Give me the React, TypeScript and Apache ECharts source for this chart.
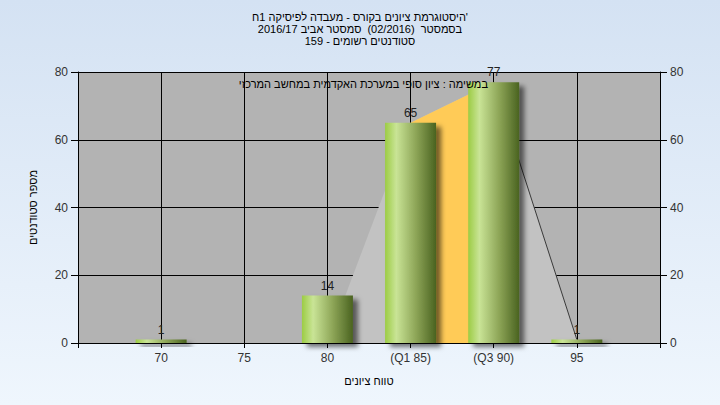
import React, { useEffect, useRef } from "react";
import * as echarts from "echarts";

const titleLines = [
  "היסטוגרמת ציונים בקורס - מעבדה לפיסיקה 1ח'",
  "בסמסטר  (02/2016)  סמסטר אביב 2016/17",
  "סטודנטים רשומים - 159",
];
const noteText = "במשימה : ציון סופי במערכת האקדמית במחשב המרכזי";
const xAxisName = "טווח ציונים";
const yAxisName = "מספר סטודנטים";

const categories = [70, 75, 80, 85, 90, 95];
const tickLabels = ["70", "75", "80", "(Q1 85)", "(Q3 90)", "95"];
const counts = [1, 0, 14, 65, 77, 1];

// distribution outline (light grey polygon)
const outlineX = [80, 85, 90, 95];
const outlineY = [0, 65, 77, 1];
// interquartile range (yellow)
const iqrX = [85, 90];
const iqrY = [65, 77];
// dark tail line
const tailX = [90, 95];
const tailY = [77, 1];

const yTicks = [0, 20, 40, 60, 80];

const FONT = "'Liberation Sans', Arial, sans-serif";

export default function App() {
  const ref = useRef<HTMLDivElement>(null);

  useEffect(() => {
    document.body.style.margin = "0";
    if (!ref.current) return;
    const chart = echarts.init(ref.current, undefined, { renderer: "svg" });

    const labelMap: Record<number, string> = {};
    categories.forEach((c, i) => (labelMap[c] = tickLabels[i]));

    const barGradient = new echarts.graphic.LinearGradient(0, 0, 1, 0, [
      { offset: 0, color: "#9ccc44" },
      { offset: 0.22, color: "#c9e496" },
      { offset: 0.6, color: "#8ea658" },
      { offset: 1, color: "#4a6320" },
    ]);

    const yAxisCommon = {
      type: "value",
      min: yTicks[0],
      max: yTicks[yTicks.length - 1],
      interval: 20,
      axisLine: { show: true, lineStyle: { color: "#000", width: 1 } },
      axisTick: { show: true, length: 7, lineStyle: { color: "#000" } },
      axisLabel: { color: "#333", fontSize: 12, fontFamily: FONT, margin: 10 },
    };

    const option: any = {
      animation: false,
      title: {
        text: titleLines.join("\n"),
        left: "center",
        top: 11,
        padding: 0,
        textStyle: {
          fontSize: 11,
          lineHeight: 12,
          fontWeight: "normal",
          color: "#000",
          fontFamily: FONT,
        },
      },
      graphic: [
        {
          type: "rect",
          z: -100,
          silent: true,
          shape: { x: 0, y: 0, width: 720, height: 405 },
          style: {
            fill: new echarts.graphic.LinearGradient(0, 0, 0, 1, [
              { offset: 0, color: "#d4e2f3" },
              { offset: 1, color: "#eff6fd" },
            ]),
          },
        },
        {
          type: "text",
          z: 100,
          x: 488,
          y: 84,
          style: {
            text: noteText,
            align: "right",
            verticalAlign: "middle",
            fill: "#000",
            fontSize: 11,
            fontFamily: FONT,
          },
        },
      ],
      grid: {
        left: 78,
        right: 60,
        top: 72,
        bottom: 62,
        show: true,
        backgroundColor: "#b3b3b3",
        borderWidth: 0,
      },
      xAxis: {
        type: "value",
        min: 65,
        max: 100,
        interval: 5,
        name: xAxisName,
        nameLocation: "middle",
        nameGap: 32,
        nameTextStyle: { color: "#000", fontSize: 11, fontFamily: FONT },
        axisLine: { show: true, onZero: false, lineStyle: { color: "#000" } },
        axisTick: { show: true, length: 5, lineStyle: { color: "#000" } },
        axisLabel: {
          color: "#333",
          fontSize: 12,
          fontFamily: FONT,
          margin: 9,
          formatter: (v: number) => labelMap[v] ?? "",
        },
        splitLine: { show: true, lineStyle: { color: "#000", width: 1 } },
      },
      yAxis: [
        {
          ...yAxisCommon,
          position: "left",
          name: yAxisName,
          nameLocation: "middle",
          nameGap: 40,
          nameRotate: 90,
          nameTextStyle: { color: "#000", fontSize: 11, fontFamily: FONT },
          splitLine: { show: true, lineStyle: { color: "#000", width: 1 } },
        },
        {
          ...yAxisCommon,
          position: "right",
          splitLine: { show: false },
        },
      ],
      series: [
        {
          type: "line",
          z: 1,
          symbol: "none",
          silent: true,
          data: outlineX.map((x, i) => [x, outlineY[i]]),
          lineStyle: { width: 0 },
          areaStyle: { color: "#c2c2c2", opacity: 1 },
        },
        {
          type: "line",
          z: 2,
          symbol: "none",
          silent: true,
          data: iqrX.map((x, i) => [x, iqrY[i]]),
          lineStyle: { width: 0 },
          areaStyle: { color: "#ffcb57", opacity: 1 },
        },
        {
          type: "line",
          z: 3,
          symbol: "none",
          silent: true,
          data: tailX.map((x, i) => [x, tailY[i]]),
          lineStyle: { width: 1, color: "#3a3a3a" },
        },
        {
          type: "bar",
          z: 4,
          barWidth: 51,
          data: categories.map((c, i) => [c, counts[i]]),
          itemStyle: {
            color: barGradient,
            shadowColor: "rgba(0,0,0,0.55)",
            shadowBlur: 5,
            shadowOffsetX: 5,
            shadowOffsetY: 4,
          },
          label: {
            show: true,
            position: "top",
            distance: 4,
            color: "#222",
            fontSize: 12,
            fontFamily: FONT,
            formatter: (p: any) => (p.value[1] === 0 ? "" : String(p.value[1])),
          },
        },
      ],
    };

    chart.setOption(option);
    return () => chart.dispose();
  }, []);

  return <div ref={ref} style={{ width: 720, height: 405 }} />;
}
